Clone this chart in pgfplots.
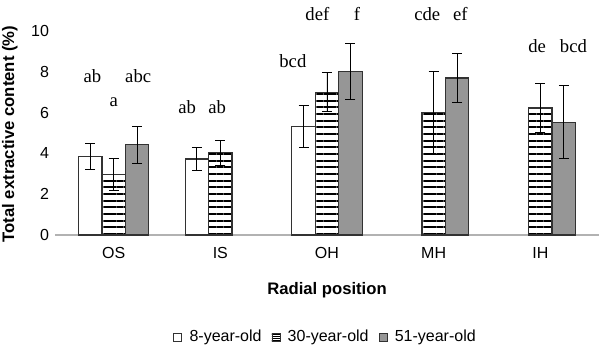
\documentclass[border=0pt]{standalone}
\usepackage{pgfplots}
\pgfplotsset{compat=1.18}
\usepackage{fontspec}
\setmainfont{Liberation Sans}
\newfontfamily\seriffont{Liberation Serif}
\usetikzlibrary{patterns.meta}
\definecolor{bargrey}{RGB}{150,150,150}
\definecolor{edge}{RGB}{50,50,50}
\begin{document}
\begin{tikzpicture}
\begin{axis}[
  scale only axis, width=408pt, height=153pt,
  xmin=-0.55, xmax=4.55, ymin=0, ymax=10,
  clip=false,
  axis x line*=bottom, axis y line*=left,
  x axis line style={draw=gray!60, line width=0.8pt, -},
  y axis line style={draw=none},
  major tick length=0pt,
  xtick={0,1,2,3,4}, xticklabels={OS,IS,OH,MH,IH},
  ytick={0,2,4,6,8,10},
  /pgf/number format/assume math mode=true,
  tick label style={font=\fontsize{12}{14}\selectfont},
  xticklabel style={yshift=-6pt},
  yticklabel style={xshift=-1pt},
  ylabel={\bfseries Total extractive content (\%)},
  ylabel style={at={(axis description cs:-0.083,0.495)}, anchor=center, rotate=0, font=\fontsize{12.5}{14}\selectfont},
  xlabel={\bfseries Radial position},
  xlabel style={at={(axis description cs:0.5,-0.27)}, anchor=center, font=\fontsize{12.5}{14}\selectfont},
  legend style={at={(axis description cs:0.498,-0.5)}, anchor=center, draw=none, legend columns=3,
    font=\fontsize{12}{14}\selectfont,
    /tikz/every odd column/.append style={column sep=3.5pt},
    /tikz/every even column/.append style={column sep=5.5pt},
    inner sep=0pt},
  ybar, bar width=0.22,
]
\addplot[ybar, bar shift=-0.22, fill=white, draw=edge, line width=0.9pt,
  legend image code/.code={\draw[fill=white, draw=edge, line width=0.6pt] (0pt,-3pt) rectangle (6pt,3pt);},
  error bars/.cd, y dir=both, y explicit,
  error bar style={black, line width=0.7pt},
  error mark options={rotate=90, mark size=3.75pt, black, line width=0.7pt}]
  coordinates {(0,3.83) +- (0,0.64) (1,3.73) +- (0,0.55) (2,5.31) +- (0,1.03)};
\addlegendentry{8-year-old}
\addplot[ybar, bar shift=0, fill=white, postaction={pattern={Lines[angle=0,distance=5pt,line width=1.4pt]}}, draw=edge, line width=0.9pt,
  legend image code/.code={\draw[fill=white, postaction={pattern={Lines[angle=0,distance=1.5pt,line width=0.5pt]}}, draw=edge, line width=0.6pt] (0pt,-3pt) rectangle (6pt,3pt);},
  error bars/.cd, y dir=both, y explicit,
  error bar style={black, line width=0.7pt},
  error mark options={rotate=90, mark size=3.75pt, black, line width=0.7pt}]
  coordinates {(0,2.95) +- (0,0.78) (1,4.03) +- (0,0.6) (2,7.0) +- (0,0.95) (3,5.99) +- (0,2.03) (4,6.23) +- (0,1.21)};
\addlegendentry{30-year-old}
\addplot[ybar, bar shift=0.22, fill=bargrey, draw=edge, line width=0.9pt,
  legend image code/.code={\draw[fill=bargrey, draw=edge, line width=0.6pt] (0pt,-3pt) rectangle (6pt,3pt);},
  error bars/.cd, y dir=both, y explicit,
  error bar style={black, line width=0.7pt},
  error mark options={rotate=90, mark size=3.75pt, black, line width=0.7pt}]
  coordinates {(0,4.42) +- (0,0.9) (2,8.0) +- (0,1.37) (3,7.7) +- (0,1.18) (4,5.52) +- (0,1.79)};
\addlegendentry{51-year-old}
\tikzset{lbl/.style={anchor=base, font=\seriffont\fontsize{14}{16}\selectfont, inner sep=0pt}}
\node[lbl] at (axis cs:-0.2,7.47) {ab};
\node[lbl] at (axis cs:0.0,6.29) {a};
\node[lbl] at (axis cs:0.23,7.47) {abc};
\node[lbl] at (axis cs:0.69,5.95) {ab};
\node[lbl] at (axis cs:0.97,5.95) {ab};
\node[lbl] at (axis cs:1.68,8.2) {bcd};
\node[lbl] at (axis cs:1.91,10.52) {def};
\node[lbl] at (axis cs:2.28,10.52) {f};
\node[lbl] at (axis cs:2.94,10.52) {cde};
\node[lbl] at (axis cs:3.25,10.52) {ef};
\node[lbl] at (axis cs:3.97,8.94) {de};
\node[lbl] at (axis cs:4.31,8.94) {bcd};
\end{axis}
\pgfresetboundingbox
\path[use as bounding box] (-41.25pt,-89.25pt) rectangle (408.75pt,176.25pt);
\end{tikzpicture}
\end{document}
